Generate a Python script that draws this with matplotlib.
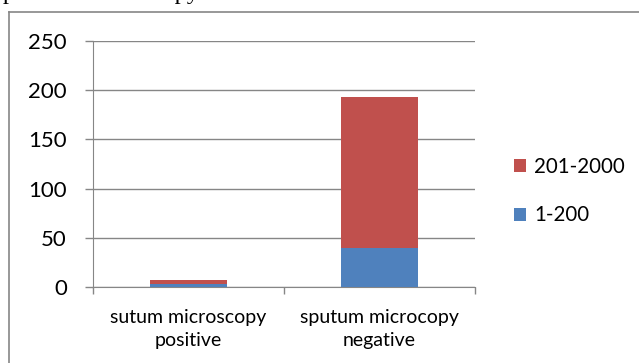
import matplotlib.pyplot as plt
from matplotlib.lines import Line2D
import numpy as np

categories = ["sutum microscopy\npositive", "sputum microcopy\nnegative"]
low_vals = [3, 40]       # 1-200
high_vals = [4, 153]     # 201-2000
series_names = ["1-200", "201-2000"]

BLUE = "#4F81BD"
RED = "#C0504D"
GRID = "#868686"

plt.rcParams["font.family"] = ["Lato", "DejaVu Sans"]

fig = plt.figure(figsize=(6.39, 3.63), dpi=100)
ax = fig.add_axes([93 / 639, 1 - 287 / 363, (475 - 93) / 639, (287 - 41) / 363])

x = np.arange(len(categories))
b1 = ax.bar(x, low_vals, width=0.4, color=BLUE, label=series_names[0], zorder=3)
b2 = ax.bar(x, high_vals, width=0.4, bottom=low_vals, color=RED, label=series_names[1], zorder=3)

ax.set_xlim(-0.5, 1.5)
ax.set_ylim(0, 250)
ax.set_yticks(range(0, 251, 50))
ax.yaxis.grid(True, color=GRID, linewidth=1, zorder=0)
ax.set_axisbelow(True)

# category labels centered, ticks at boundaries
ax.set_xticks(x)
ax.set_xticklabels(categories, fontsize=14, linespacing=1.4)
ax.set_xticks([-0.5, 0.5, 1.5], minor=True)
ax.tick_params(axis="x", which="major", length=0, pad=16)
ax.tick_params(axis="x", which="minor", length=5, color=GRID, width=1)
ax.tick_params(axis="y", length=5.8, color=GRID, width=1, labelsize=16, pad=13)

for s in ["top", "right"]:
    ax.spines[s].set_visible(False)
ax.spines["left"].set_color(GRID)
ax.spines["bottom"].set_color(GRID)

# legend: 201-2000 above 1-200
leg = fig.legend([b2, b1], [series_names[1], series_names[0]],
                 loc="center left", bbox_to_anchor=(495 / 639, 1 - 191 / 363),
                 frameon=False, fontsize=14.8, handlelength=0.6, handleheight=0.6,
                 handletextpad=0.4, labelspacing=1.4)

# chart area border (left and top edges visible)
fig.add_artist(Line2D([9 / 639, 9 / 639], [0, 1 - 12 / 363], color=GRID, linewidth=1.2,
                      transform=fig.transFigure))
fig.add_artist(Line2D([9 / 639, 1], [1 - 12 / 363, 1 - 12 / 363], color=GRID, linewidth=1.2,
                      transform=fig.transFigure))

# clipped caption line from the page above
fig.text(3 / 639, 1 + 1 / 363, "positive microscopy", family="Liberation Serif",
         fontsize=17.5, va="baseline", ha="left")

fig.savefig("out.png", dpi=100)
